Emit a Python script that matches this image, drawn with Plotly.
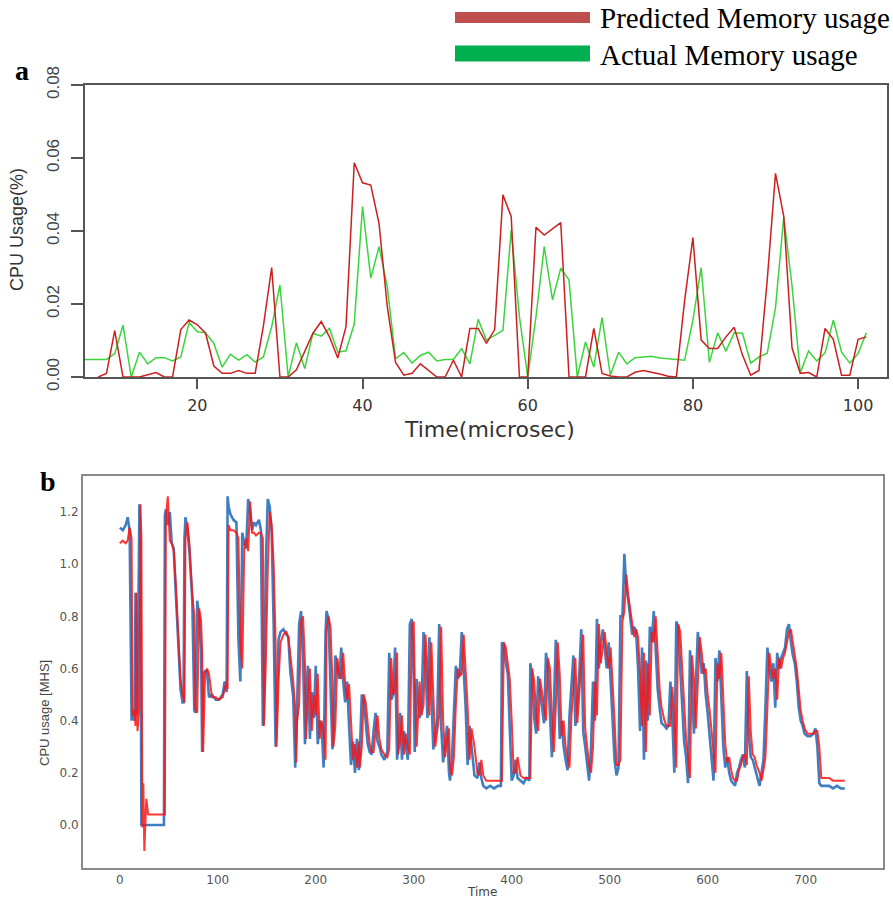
import plotly.graph_objects as go

# ---------------- Panel a data ----------------
a_pred_time = list(range(8, 102))
a_pred = [0, 0.001, 0.0127, 0, 0, 0, 0.0006, 0.0012, 0, 0,
          0.013, 0.0156, 0.0143, 0.012, 0.003, 0.001, 0.001, 0.0018, 0.001, 0.001,
          0.014, 0.030, 0, 0, 0.002, 0.0072, 0.012, 0.0152, 0.011, 0.0052,
          0.0138, 0.0587, 0.0532, 0.0526, 0.042, 0.0193, 0.004, 0.0005, 0.001, 0.0036,
          0.0018, 0, 0, 0.0046, 0, 0.0133, 0.0133, 0.0092, 0.013, 0.0499,
          0.044, 0, 0, 0.041, 0.0389, 0.0405, 0.0423, 0, 0, 0,
          0.0133, 0.001, 0.0003, 0, 0, 0.0013, 0.0018, 0.0014, 0.0008, 0.0002,
          0, 0.021, 0.0382, 0.0101, 0.0078, 0.0078, 0.011, 0.0136, 0.006, 0.0005,
          0.0018, 0.0266, 0.0558, 0.044, 0.008, 0.001, 0.0012, 0, 0.0133, 0.0103,
          0.0005, 0.0005, 0.0103, 0.011]

a_act_time = list(range(6, 102))
a_act = [0.0048, 0.0048, 0.0048, 0.0048, 0.0064, 0.0142, 0, 0.0068, 0.0036, 0.0053,
         0.0053, 0.0044, 0.0055, 0.0149, 0.0124, 0.0121, 0.0092, 0.0027, 0.0062, 0.0046,
         0.0061, 0.0041, 0.0055, 0.0138, 0.0252, 0, 0.0094, 0.0023, 0.012, 0.0112,
         0.0133, 0.0068, 0.0072, 0.0145, 0.0467, 0.0271, 0.0357, 0.0247, 0.005, 0.0067,
         0.0038, 0.0059, 0.0068, 0.0044, 0.0048, 0.0048, 0.0078, 0.0036, 0.0158, 0.0101,
         0.0114, 0.0128, 0.0402, 0.0165, 0, 0.0165, 0.0357, 0.0211, 0.0298, 0.0266,
         0, 0.0096, 0.0027, 0.0163, 0.0005, 0.0068, 0.0036, 0.0053, 0.0055, 0.0057,
         0.0052, 0.005, 0.0048, 0.0046, 0.0156, 0.030, 0.004, 0.0121, 0.0071, 0.0121,
         0.012, 0.0038, 0.0055, 0.0065, 0.019, 0.0438, 0.025, 0.0011, 0.0071, 0.0044,
         0.0066, 0.0156, 0.0068, 0.0038, 0.0064, 0.0121]

a_xticks = [20, 40, 60, 80, 100]
a_yticks = [0.0, 0.02, 0.04, 0.06, 0.08]
a_yticklabels = ["0.00", "0.02", "0.04", "0.06", "0.08"]

# ---------------- Panel b data ----------------
b_time = [0, 3, 6, 8, 10, 12, 13, 15, 16, 17, 18, 20, 21, 22, 23, 24, 25, 27, 29, 45,
          46, 47, 49, 51, 53, 55, 57, 60, 62, 64, 65, 66, 67, 69, 71, 74, 76, 77, 79, 81,
          83, 84, 85, 87, 89, 91, 94, 98, 101, 105, 107, 109, 110, 111, 113, 116, 119, 121, 123, 125,
          127, 129, 131, 133, 135, 137, 139, 142, 144, 146, 147, 149, 151, 153, 155, 157, 159, 160, 162, 164,
          167, 170, 172, 174, 177, 179, 180, 181, 183, 185, 187, 189, 190, 192, 194, 196, 198, 200, 202, 204,
          206, 208, 210, 211, 213, 215, 217, 218, 220, 222, 224, 226, 228, 230, 232, 234, 236, 238, 240, 242,
          244, 245, 247, 249, 251, 253, 255, 257, 259, 261, 263, 265, 267, 270, 273, 275, 277, 279, 281, 283,
          284, 286, 288, 290, 292, 294, 296, 298, 300, 301, 303, 306, 308, 310, 312, 314, 316, 318, 320, 322,
          324, 326, 328, 330, 332, 334, 336, 337, 339, 341, 343, 345, 347, 349, 351, 353, 355, 357, 359, 362,
          365, 367, 369, 371, 374, 378, 382, 386, 389, 390, 392, 394, 396, 398, 400, 402, 404, 406, 409, 412,
          415, 418, 419, 421, 423, 425, 427, 429, 431, 433, 435, 437, 439, 441, 443, 445, 447, 449, 451, 453,
          455, 457, 459, 461, 463, 465, 467, 469, 471, 473, 475, 477, 479, 481, 483, 485, 487, 489, 491, 493,
          495, 497, 499, 501, 503, 505, 507, 509, 511, 513, 515, 517, 519, 521, 523, 525, 527, 529, 531, 533,
          535, 537, 539, 541, 543, 545, 547, 549, 551, 553, 556, 558, 560, 562, 564, 566, 568, 570, 572, 574,
          576, 578, 580, 582, 584, 586, 588, 590, 592, 594, 596, 598, 600, 602, 604, 606, 608, 610, 612, 614,
          616, 618, 620, 622, 624, 626, 628, 630, 632, 634, 636, 638, 640, 642, 644, 646, 648, 650, 653, 655,
          657, 659, 661, 663, 665, 667, 669, 671, 673, 675, 677, 679, 681, 683, 685, 687, 689, 691, 693, 695,
          697, 699, 702, 705, 708, 710, 712, 714, 716, 720, 724, 728, 732, 736, 740]

b_actual = [1.14, 1.13, 1.15, 1.18, 1.13, 0.40, 0.44, 0.40, 0.89, 0.42, 0.45, 1.23, 1.10, 0.0, 0.0, 0.0, 0.0, 0.0, 0.0, 0.0,
            1.19, 1.21, 1.15, 1.20, 1.08, 1.06, 0.90, 0.67, 0.52, 0.47, 0.47, 1.10, 1.18, 1.13, 1.05, 0.86, 0.44, 0.43, 0.86, 0.80,
            0.66, 0.28, 0.58, 0.59, 0.59, 0.49, 0.50, 0.48, 0.48, 0.50, 0.55, 0.51, 1.26, 1.22, 1.19, 1.17, 1.16, 0.72, 0.55, 1.12,
            1.08, 1.06, 1.25, 1.20, 1.13, 1.16, 1.15, 1.17, 1.13, 0.38, 0.40, 1.00, 1.25, 1.22, 1.12, 0.77, 0.30, 0.40, 0.71, 0.74,
            0.75, 0.73, 0.72, 0.59, 0.49, 0.22, 0.40, 0.46, 0.77, 0.82, 0.64, 0.31, 0.50, 0.61, 0.33, 0.51, 0.41, 0.61, 0.31, 0.40,
            0.38, 0.22, 0.74, 0.82, 0.79, 0.56, 0.29, 0.35, 0.65, 0.60, 0.56, 0.68, 0.55, 0.47, 0.55, 0.38, 0.23, 0.32, 0.20, 0.33,
            0.21, 0.28, 0.50, 0.48, 0.38, 0.31, 0.28, 0.27, 0.36, 0.43, 0.32, 0.30, 0.27, 0.25, 0.28, 0.66, 0.48, 0.50, 0.68, 0.25,
            0.30, 0.43, 0.25, 0.36, 0.30, 0.25, 0.77, 0.79, 0.56, 0.28, 0.56, 0.41, 0.45, 0.74, 0.61, 0.41, 0.72, 0.46, 0.29, 0.35,
            0.41, 0.77, 0.38, 0.24, 0.32, 0.38, 0.20, 0.17, 0.25, 0.45, 0.61, 0.56, 0.58, 0.74, 0.60, 0.45, 0.23, 0.38, 0.30, 0.19,
            0.18, 0.24, 0.18, 0.15, 0.14, 0.15, 0.14, 0.15, 0.15, 0.70, 0.69, 0.62, 0.58, 0.40, 0.17, 0.19, 0.25, 0.18, 0.17, 0.16,
            0.18, 0.17, 0.62, 0.57, 0.41, 0.35, 0.57, 0.50, 0.45, 0.39, 0.66, 0.60, 0.42, 0.26, 0.45, 0.71, 0.58, 0.33, 0.40, 0.30,
            0.25, 0.21, 0.42, 0.55, 0.65, 0.38, 0.50, 0.58, 0.75, 0.36, 0.30, 0.22, 0.17, 0.30, 0.55, 0.40, 0.79, 0.60, 0.70, 0.75,
            0.66, 0.60, 0.70, 0.55, 0.40, 0.25, 0.19, 0.22, 0.80, 0.80, 1.04, 0.91, 0.86, 0.79, 0.73, 0.76, 0.74, 0.60, 0.36, 0.68,
            0.25, 0.63, 0.40, 0.76, 0.70, 0.82, 0.66, 0.52, 0.45, 0.39, 0.38, 0.37, 0.38, 0.55, 0.40, 0.20, 0.78, 0.76, 0.60, 0.45,
            0.32, 0.26, 0.16, 0.67, 0.55, 0.35, 0.55, 0.74, 0.66, 0.58, 0.62, 0.50, 0.43, 0.35, 0.25, 0.17, 0.64, 0.55, 0.67, 0.45,
            0.30, 0.22, 0.26, 0.20, 0.17, 0.16, 0.15, 0.20, 0.22, 0.25, 0.27, 0.22, 0.59, 0.35, 0.26, 0.25, 0.22, 0.20, 0.15, 0.20,
            0.25, 0.45, 0.68, 0.60, 0.55, 0.62, 0.45, 0.66, 0.60, 0.64, 0.66, 0.68, 0.75, 0.77, 0.70, 0.65, 0.62, 0.55, 0.45, 0.40,
            0.38, 0.35, 0.34, 0.34, 0.35, 0.37, 0.30, 0.16, 0.15, 0.15, 0.15, 0.14, 0.15, 0.14, 0.14]

b_predicted = [1.08, 1.09, 1.08, 1.09, 1.14, 1.10, 0.42, 0.44, 0.38, 0.89, 0.36, 0.45, 1.23, 1.10, -0.01, 0.16, -0.10, 0.10, 0.04, 0.04,
               0.04, 1.18, 1.26, 1.09, 1.08, 1.05, 0.93, 0.70, 0.56, 0.50, 0.48, 0.47, 1.10, 1.16, 1.08, 0.88, 0.80, 0.45, 0.43, 0.83,
               0.78, 0.66, 0.28, 0.58, 0.60, 0.58, 0.49, 0.49, 0.48, 0.49, 0.52, 0.55, 0.52, 1.15, 1.13, 1.13, 1.12, 1.10, 0.70, 0.60,
               1.06, 1.10, 1.05, 1.24, 1.12, 1.12, 1.11, 1.12, 1.12, 1.10, 0.38, 0.62, 0.98, 1.20, 1.15, 1.00, 0.70, 0.30, 0.55, 0.70,
               0.73, 0.74, 0.72, 0.65, 0.55, 0.45, 0.24, 0.40, 0.46, 0.78, 0.80, 0.62, 0.33, 0.48, 0.60, 0.36, 0.50, 0.42, 0.58, 0.33,
               0.40, 0.36, 0.25, 0.74, 0.80, 0.76, 0.55, 0.30, 0.38, 0.64, 0.58, 0.56, 0.66, 0.54, 0.48, 0.54, 0.40, 0.25, 0.31, 0.22,
               0.32, 0.22, 0.30, 0.50, 0.47, 0.38, 0.31, 0.28, 0.28, 0.36, 0.42, 0.33, 0.29, 0.27, 0.26, 0.29, 0.64, 0.50, 0.52, 0.66,
               0.27, 0.32, 0.42, 0.27, 0.35, 0.30, 0.27, 0.76, 0.78, 0.56, 0.30, 0.55, 0.42, 0.46, 0.73, 0.60, 0.42, 0.70, 0.47, 0.30,
               0.36, 0.42, 0.76, 0.40, 0.26, 0.33, 0.37, 0.22, 0.19, 0.26, 0.46, 0.60, 0.57, 0.58, 0.73, 0.60, 0.45, 0.25, 0.37, 0.30,
               0.20, 0.19, 0.25, 0.19, 0.17, 0.17, 0.17, 0.17, 0.17, 0.17, 0.70, 0.68, 0.62, 0.56, 0.40, 0.20, 0.20, 0.26, 0.19, 0.18,
               0.18, 0.18, 0.18, 0.60, 0.55, 0.42, 0.36, 0.56, 0.50, 0.45, 0.40, 0.64, 0.60, 0.42, 0.28, 0.45, 0.70, 0.58, 0.34, 0.40,
               0.30, 0.26, 0.22, 0.42, 0.55, 0.64, 0.39, 0.50, 0.58, 0.73, 0.37, 0.30, 0.23, 0.20, 0.30, 0.55, 0.42, 0.77, 0.62, 0.68,
               0.74, 0.66, 0.60, 0.68, 0.55, 0.40, 0.23, 0.23, 0.25, 0.78, 0.82, 0.96, 0.88, 0.82, 0.78, 0.72, 0.75, 0.72, 0.58, 0.38,
               0.66, 0.28, 0.62, 0.42, 0.74, 0.70, 0.80, 0.66, 0.52, 0.45, 0.40, 0.38, 0.38, 0.38, 0.53, 0.40, 0.22, 0.77, 0.74, 0.60,
               0.46, 0.33, 0.26, 0.18, 0.65, 0.56, 0.37, 0.55, 0.72, 0.66, 0.58, 0.60, 0.50, 0.44, 0.35, 0.26, 0.20, 0.62, 0.56, 0.66,
               0.46, 0.31, 0.24, 0.26, 0.21, 0.18, 0.17, 0.17, 0.21, 0.23, 0.26, 0.27, 0.23, 0.57, 0.36, 0.27, 0.26, 0.23, 0.20, 0.17,
               0.21, 0.26, 0.45, 0.66, 0.60, 0.56, 0.60, 0.48, 0.64, 0.60, 0.64, 0.66, 0.70, 0.74, 0.75, 0.70, 0.64, 0.60, 0.52, 0.44,
               0.40, 0.37, 0.35, 0.35, 0.35, 0.36, 0.36, 0.30, 0.18, 0.18, 0.18, 0.17, 0.17, 0.17, 0.17]

b_xticks = [0, 100, 200, 300, 400, 500, 600, 700]
b_yticks = [0.0, 0.2, 0.4, 0.6, 0.8, 1.0, 1.2]

legend_labels = ["Predicted Memory usage", "Actual Memory usage"]

W, H = 893, 901


def px(x):
    return x / W


def py(y):
    return 1 - y / H


fig = go.Figure()

fig.add_trace(go.Scatter(x=a_act_time, y=a_act, mode="lines",
                         line=dict(color="#3CD43C", width=1.5),
                         xaxis="x", yaxis="y", showlegend=False))
fig.add_trace(go.Scatter(x=a_pred_time, y=a_pred, mode="lines",
                         line=dict(color="#CC1F1F", width=1.5),
                         xaxis="x", yaxis="y", showlegend=False))

fig.add_trace(go.Scatter(x=b_time, y=b_actual, mode="lines",
                         line=dict(color="#3F7FC0", width=2.6),
                         xaxis="x2", yaxis="y2", showlegend=False))
fig.add_trace(go.Scatter(x=b_time, y=b_predicted, mode="lines",
                         line=dict(color="#FF1414", width=2.0), opacity=0.85,
                         xaxis="x2", yaxis="y2", showlegend=False))

axis_a_line = "#555555"
fig.update_layout(
    width=W, height=H,
    margin=dict(l=0, r=0, t=0, b=0, pad=0, autoexpand=False),
    paper_bgcolor="white", plot_bgcolor="white",
    xaxis=dict(domain=[px(85), px(887)], range=[6.4, 103.5], anchor="y",
               automargin=False,
               showgrid=False, zeroline=False, showline=True, mirror=True,
               linecolor=axis_a_line, linewidth=2,
               ticks="outside", ticklen=10, tickwidth=2, tickcolor=axis_a_line,
               tickvals=a_xticks, ticklabelstandoff=3,
               tickfont=dict(family="DejaVu Sans", size=16, color="#333333")),
    yaxis=dict(domain=[py(377), py(85)], range=[0, 0.08], anchor="x",
               automargin=False,
               showgrid=False, zeroline=False, showline=True, mirror=True,
               linecolor=axis_a_line, linewidth=2,
               ticks="outside", ticklen=12, tickwidth=2, tickcolor=axis_a_line,
               tickvals=a_yticks, ticktext=a_yticklabels, tickangle=-90,
               ticklabelstandoff=5,
               tickfont=dict(family="Liberation Sans", size=17, color="#444444")),
    xaxis2=dict(domain=[px(83), px(883)], range=[-37.6, 779], anchor="y2",
                automargin=False,
                showgrid=False, zeroline=False, showline=True, mirror=True,
                linecolor="#8a8a8a", linewidth=2, ticks="",
                tickvals=b_xticks,
                tickfont=dict(family="DejaVu Sans", size=12, color="#555555")),
    yaxis2=dict(domain=[py(868), py(476)], range=[-0.165, 1.338], anchor="x2",
                automargin=False,
                showgrid=False, zeroline=False, showline=True, mirror=True,
                linecolor="#8a8a8a", linewidth=2, ticks="",
                tickvals=b_yticks, tickformat=".1f",
                tickfont=dict(family="DejaVu Sans", size=12, color="#555555")),
)

annotations = [
    dict(text="Time(microsec)", x=px(489), y=py(430), xref="paper", yref="paper",
         showarrow=False, xanchor="center", yanchor="middle",
         font=dict(family="DejaVu Sans", size=22, color="#333333")),
    dict(text="CPU Usage(%)", x=px(17), y=py(230), xref="paper", yref="paper",
         showarrow=False, xanchor="center", yanchor="middle", textangle=-90,
         font=dict(family="Liberation Sans", size=18, color="#333333")),
    dict(text="<b>a</b>", x=px(22), y=py(70), xref="paper", yref="paper",
         showarrow=False, xanchor="center", yanchor="middle",
         font=dict(family="Liberation Serif", size=28, color="black")),
    dict(text="<b>b</b>", x=px(48), y=py(482), xref="paper", yref="paper",
         showarrow=False, xanchor="center", yanchor="middle",
         font=dict(family="Liberation Serif", size=28, color="black")),
    dict(text="Time", x=px(482), y=py(892), xref="paper", yref="paper",
         showarrow=False, xanchor="center", yanchor="middle",
         font=dict(family="DejaVu Sans", size=12, color="#444444")),
    dict(text="CPU usage [MHS]", x=px(44), y=py(713), xref="paper", yref="paper",
         showarrow=False, xanchor="center", yanchor="middle", textangle=-90,
         font=dict(family="Liberation Sans", size=13, color="#444444")),
    dict(text=legend_labels[0], x=px(598), y=py(18), xref="paper", yref="paper",
         showarrow=False, xanchor="left", yanchor="middle",
         font=dict(family="Liberation Serif", size=29, color="black")),
    dict(text=legend_labels[1], x=px(598), y=py(55), xref="paper", yref="paper",
         showarrow=False, xanchor="left", yanchor="middle",
         font=dict(family="Liberation Serif", size=29, color="black")),
]
fig.update_layout(annotations=annotations)

fig.update_layout(shapes=[
    dict(type="line", xref="paper", yref="paper", x0=px(455), x1=px(590),
         y0=py(17.5), y1=py(17.5), line=dict(color="#C0504D", width=11)),
    dict(type="line", xref="paper", yref="paper", x0=px(455), x1=px(590),
         y0=py(53.5), y1=py(53.5), line=dict(color="#00B050", width=16)),
])

fig.write_html("out.html",
               config={"displayModeBar": False},
               post_script="document.body.style.margin='0px';"
                           "document.body.style.overflow='hidden';")
